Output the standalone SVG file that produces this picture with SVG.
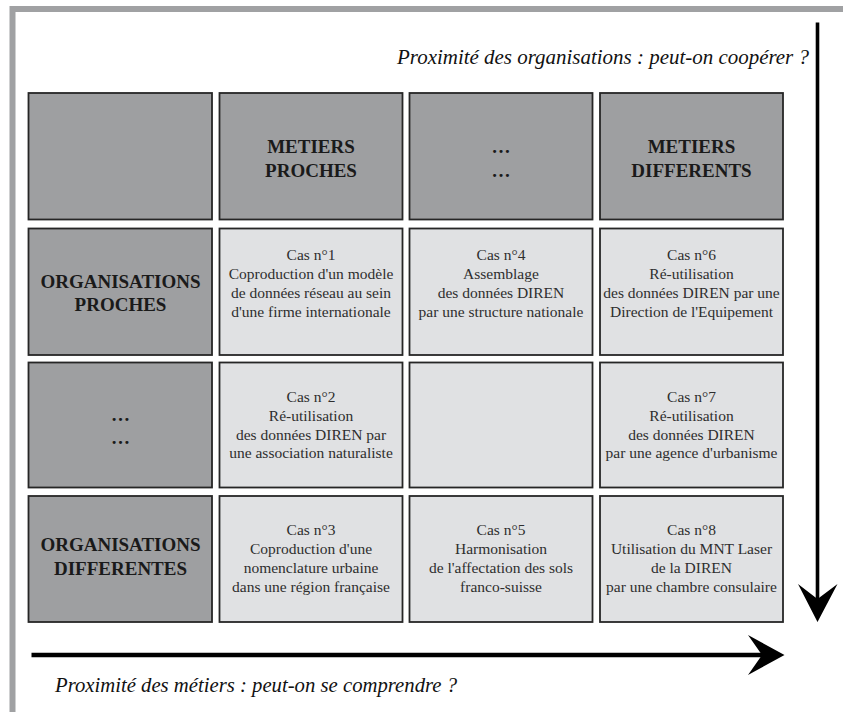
<svg xmlns="http://www.w3.org/2000/svg" width="843" height="712" viewBox="0 0 843 712" font-family="Liberation Serif, Times New Roman, serif">
<style>
.frame{fill:none;stroke:#a0a1a3;stroke-width:6}
.hd{fill:#9e9fa1;stroke:#262626;stroke-width:1.8}
.cs{fill:#e0e1e3;stroke:#262626;stroke-width:1.8}
.ht{font-weight:bold;font-size:19px;fill:#1a1a1a;text-anchor:middle}
.ct{font-size:15.5px;fill:#2e2e2e;text-anchor:middle}
.ti{font-style:italic;font-size:20px;fill:#111}
.ax{stroke:#000;fill:none}
.ah{fill:#000}
</style>
<rect width="843" height="712" fill="#fff"/>
<path class="frame" d="M12.5,712 V9 H843"/>

<text class="ti" x="397" y="63.5" textLength="412" lengthAdjust="spacingAndGlyphs" font-family="Liberation Serif">Proximité des organisations : peut-on coopérer ?</text>
<text class="ti" x="55" y="691.5" textLength="402" lengthAdjust="spacingAndGlyphs" font-family="Liberation Serif">Proximité des métiers : peut-on se comprendre ?</text>

<g id="connectors">
<line class="ax" x1="817.5" y1="22.5" x2="817.5" y2="600" stroke-width="3.6"/>
<path class="ah" d="M817.5,622 L798,584 L817.5,599 L837.5,584 Z"/>
<line class="ax" x1="31.5" y1="655" x2="762" y2="655" stroke-width="4.6"/>
<path class="ah" d="M784.5,655 L748,635 L762,655 L748,675 Z"/>
</g>

<g id="h-empty"><rect class="hd" x="28.5" y="93" width="183.5" height="126.5"/></g>
<g id="h-metiers-proches"><rect class="hd" x="219.5" y="93" width="183" height="126.5"/>
<text class="ht" x="311" y="153">METIERS</text><text class="ht" x="311" y="176.5">PROCHES</text></g>
<g id="h-dots"><rect class="hd" x="409.5" y="93" width="183" height="126.5"/>
<text class="ht" x="501" y="153">…</text><text class="ht" x="501" y="176.5">…</text></g>
<g id="h-metiers-differents"><rect class="hd" x="600" y="93" width="183" height="126.5"/>
<text class="ht" x="691.5" y="153">METIERS</text><text class="ht" x="691.5" y="176.5">DIFFERENTS</text></g>

<g id="r-org-proches"><rect class="hd" x="28.5" y="228.5" width="183.5" height="126.5"/>
<text class="ht" x="120.5" y="288">ORGANISATIONS</text><text class="ht" x="120.5" y="310.5">PROCHES</text></g>
<g id="r-dots"><rect class="hd" x="28.5" y="362.5" width="183.5" height="125"/>
<text class="ht" x="120.5" y="421">…</text><text class="ht" x="120.5" y="444">…</text></g>
<g id="r-org-differentes"><rect class="hd" x="28.5" y="496" width="183.5" height="126"/>
<text class="ht" x="120.5" y="551">ORGANISATIONS</text><text class="ht" x="120.5" y="575">DIFFERENTES</text></g>

<g id="cas1"><rect class="cs" x="219.5" y="228.5" width="183" height="126.5"/>
<text class="ct" x="311" y="260">Cas n°1</text>
<text class="ct" x="311" y="279">Coproduction d'un modèle</text>
<text class="ct" x="311" y="298">de données réseau au sein</text>
<text class="ct" x="311" y="317">d'une firme internationale</text></g>
<g id="cas4"><rect class="cs" x="409.5" y="228.5" width="183" height="126.5"/>
<text class="ct" x="501" y="260">Cas n°4</text>
<text class="ct" x="501" y="279">Assemblage</text>
<text class="ct" x="501" y="298">des données DIREN</text>
<text class="ct" x="501" y="317">par une structure nationale</text></g>
<g id="cas6"><rect class="cs" x="600" y="228.5" width="183" height="126.5"/>
<text class="ct" x="691.5" y="260">Cas n°6</text>
<text class="ct" x="691.5" y="279">Ré-utilisation</text>
<text class="ct" x="691.5" y="298">des données DIREN par une</text>
<text class="ct" x="691.5" y="317">Direction de l'Equipement</text></g>

<g id="cas2"><rect class="cs" x="219.5" y="362.5" width="183" height="125"/>
<text class="ct" x="311" y="401.5">Cas n°2</text>
<text class="ct" x="311" y="420.5">Ré-utilisation</text>
<text class="ct" x="311" y="439.5">des données DIREN par</text>
<text class="ct" x="311" y="458">une association naturaliste</text></g>
<g id="empty-cell"><rect class="cs" x="409.5" y="362.5" width="183" height="125"/></g>
<g id="cas7"><rect class="cs" x="600" y="362.5" width="183" height="125"/>
<text class="ct" x="691.5" y="401.5">Cas n°7</text>
<text class="ct" x="691.5" y="420.5">Ré-utilisation</text>
<text class="ct" x="691.5" y="439.5">des données DIREN</text>
<text class="ct" x="691.5" y="458">par une agence d'urbanisme</text></g>

<g id="cas3"><rect class="cs" x="219.5" y="496" width="183" height="126"/>
<text class="ct" x="311" y="535">Cas n°3</text>
<text class="ct" x="311" y="554">Coproduction d'une</text>
<text class="ct" x="311" y="573">nomenclature urbaine</text>
<text class="ct" x="311" y="592">dans une région française</text></g>
<g id="cas5"><rect class="cs" x="409.5" y="496" width="183" height="126"/>
<text class="ct" x="501" y="535">Cas n°5</text>
<text class="ct" x="501" y="554">Harmonisation</text>
<text class="ct" x="501" y="573">de l'affectation des sols</text>
<text class="ct" x="501" y="592">franco-suisse</text></g>
<g id="cas8"><rect class="cs" x="600" y="496" width="183" height="126"/>
<text class="ct" x="691.5" y="535">Cas n°8</text>
<text class="ct" x="691.5" y="554">Utilisation du MNT Laser</text>
<text class="ct" x="691.5" y="573">de la DIREN</text>
<text class="ct" x="691.5" y="592">par une chambre consulaire</text></g>
</svg>
